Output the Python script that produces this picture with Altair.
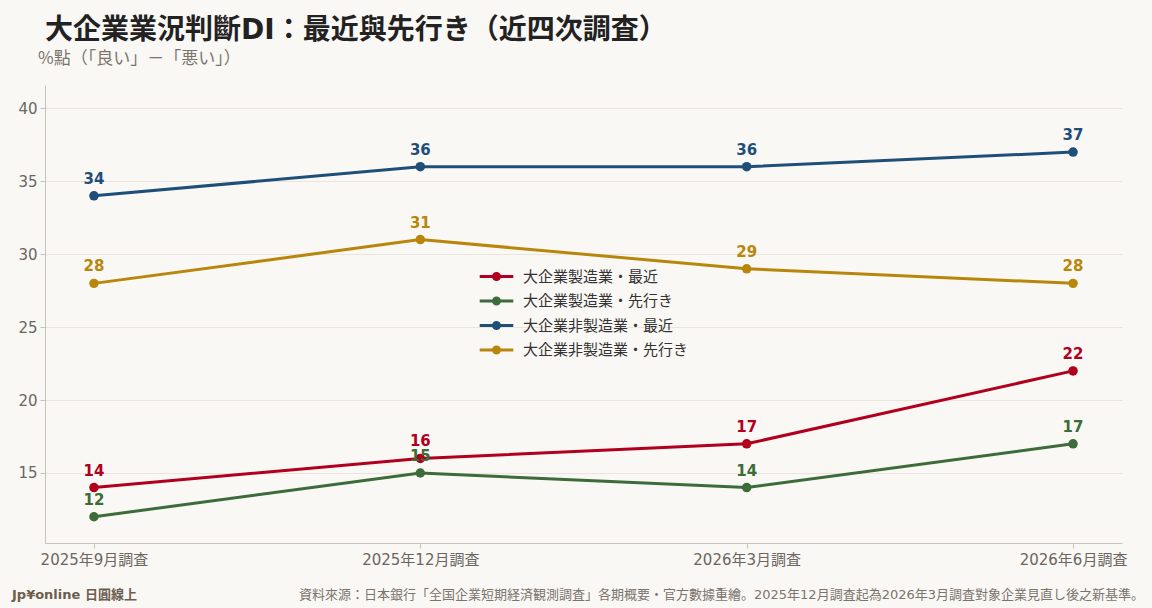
import altair as alt
import pandas as pd

surveys = ["2025年9月調査", "2025年12月調査", "2026年3月調査", "2026年6月調査"]
series_names = ["大企業製造業・最近", "大企業製造業・先行き", "大企業非製造業・最近", "大企業非製造業・先行き"]
mfg_recent = [14, 16, 17, 22]
mfg_outlook = [12, 15, 14, 17]
nonmfg_recent = [34, 36, 36, 37]
nonmfg_outlook = [28, 31, 29, 28]
colors = ["#B0001E", "#3D6B3A", "#1F4E79", "#B8860B"]

rows = []
for name, vals in zip(series_names, [mfg_recent, mfg_outlook, nonmfg_recent, nonmfg_outlook]):
    for s, v in zip(surveys, vals):
        rows.append({"survey": s, "series": name, "value": v})
df = pd.DataFrame(rows)

FONT = "DejaVu Sans, Noto Sans CJK JP"
CJK = "Noto Sans CJK JP, DejaVu Sans"

x = alt.X("survey:N", sort=surveys, title=None,
          scale=alt.Scale(type="point", padding=0.15),
          axis=alt.Axis(labelAngle=0, labelFontSize=15, labelColor="#6b6660", labelPadding=4,
                        tickSize=5, tickColor="#c8c2ba", domainColor="#c8c2ba", grid=False,
                        labelFont=FONT))
y = alt.Y("value:Q", title=None,
          scale=alt.Scale(domain=[10.2, 41.6], nice=False, zero=False),
          axis=alt.Axis(values=[15, 20, 25, 30, 35, 40], labelFontSize=15, labelColor="#6b6660",
                        tickSize=5, tickColor="#c8c2ba", domainColor="#c8c2ba", labelPadding=3,
                        gridColor="#ebe4dc", gridWidth=1, labelFont=FONT))

color_scale = alt.Scale(domain=series_names, range=colors)
color = alt.Color("series:N", sort=series_names, scale=color_scale,
                  legend=alt.Legend(
                      title=None, orient="none", legendX=442, legendY=182,
                      symbolType="M-2.1,0L2.1,0M-0.375,0A0.375,0.375 0 1,1 0.375,0A0.375,0.375 0 1,1 -0.375,0M-0.125,0A0.125,0.125 0 1,1 0.125,0A0.125,0.125 0 1,1 -0.125,0",
                      symbolSize=256, symbolStrokeWidth=3, symbolFillColor="transparent",
                      labelFontSize=15, labelColor="#333333", labelFont=FONT, labelLimit=400,
                      labelOffset=17, rowPadding=5.5, padding=0))
color_nolegend = alt.Color("series:N", sort=series_names, scale=color_scale, legend=None)

base = alt.Chart(df)
lines = base.mark_line(strokeWidth=3).encode(x=x, y=y, color=color)
points = base.mark_circle(size=90, opacity=1).encode(x=x, y=y, color=color_nolegend)
labels = base.mark_text(fontSize=15, fontWeight="bold", dy=-12, baseline="alphabetic", font=FONT).encode(
    x=x, y=y, text="value:Q", color=color_nolegend)

def txt(s, xv, yv, size, color, weight="normal", align="left", font=FONT):
    return alt.Chart(alt.Data(values=[{}])).mark_text(
        text=s, fontSize=size, color=color, fontWeight=weight, align=align,
        baseline="alphabetic", font=font).encode(x=alt.value(xv), y=alt.value(yv))

title = txt("大企業業況判斷DI：最近與先行き（近四次調査）", 0, -46, 28, "#222222", "bold")
subtitle = txt("%點（「良い」－「悪い」）", -7, -21, 17, "#7a746c", font=CJK)
footer_l = txt("Jp¥online 日圓線上", -33, 514, 13, "#6b5e4e", "bold")
footer_r = txt("資料來源：日本銀行「全国企業短期経済観測調査」各期概要・官方數據重繪。2025年12月調査起為2026年3月調査對象企業見直し後之新基準。",
               1099, 514, 13, "#7a746c", align="right")

chart = alt.layer(lines, points, labels, title, subtitle, footer_l, footer_r).properties(
    width=1077, height=458,
    padding={"left": 45, "top": 85, "right": 30, "bottom": 65},
    autosize=alt.AutoSizeParams(type="none"),
    background="#FAF8F5",
).configure_view(stroke=None).configure_axis(domainWidth=1)

chart.save("out.html", embed_options={"renderer": "svg", "actions": False})
